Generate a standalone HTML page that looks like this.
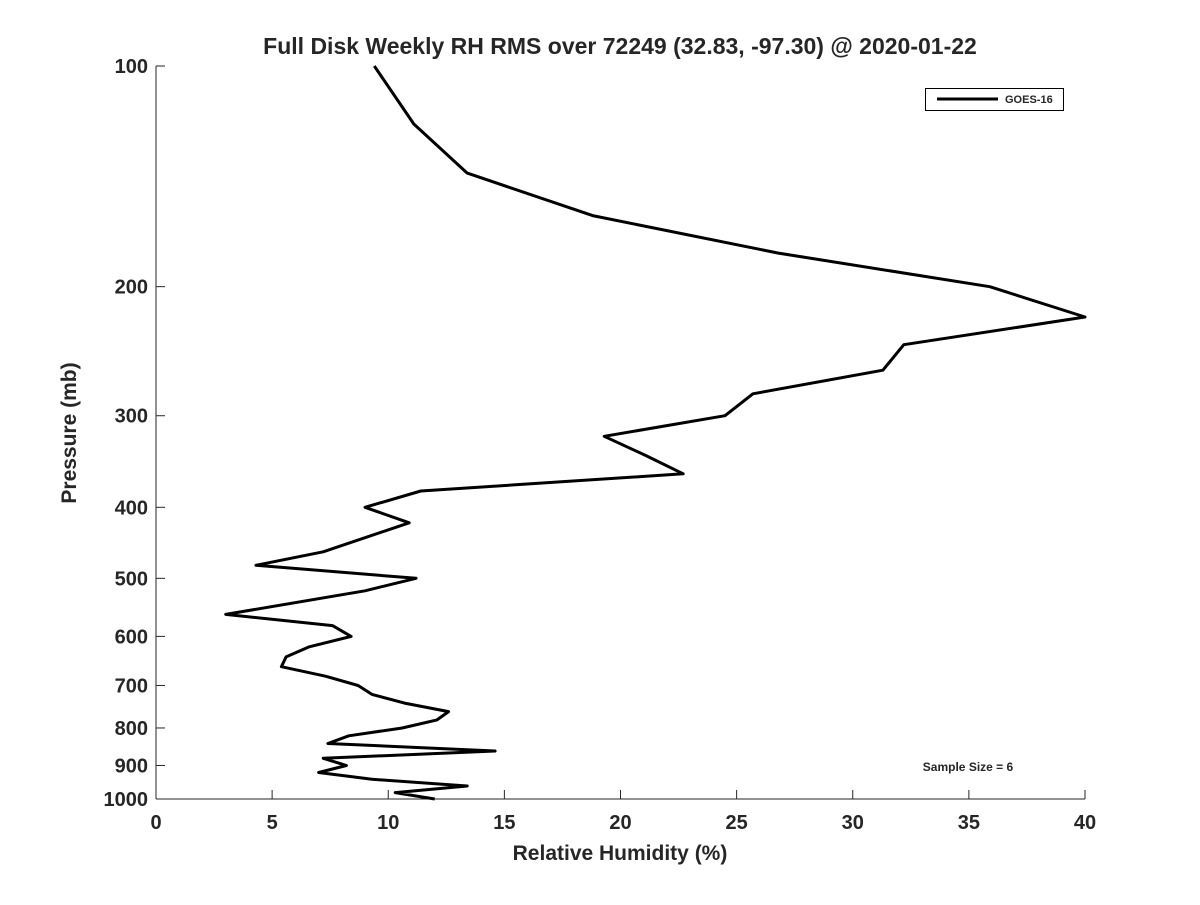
<!DOCTYPE html>
<html><head><meta charset="utf-8"><style>
html,body{margin:0;padding:0;background:#fff;}
svg text{font-family:"Liberation Sans",sans-serif;font-weight:bold;fill:#262626;}
</style></head><body>
<svg width="1200" height="900" xmlns="http://www.w3.org/2000/svg">
<rect width="1200" height="900" fill="#fff"/>
<text x="620" y="54" font-size="23" text-anchor="middle">Full Disk Weekly RH RMS over 72249 (32.83, -97.30) @ 2020-01-22</text>
<g id="axes"></g>
<path id="series" fill="none" stroke="#000" stroke-width="3" stroke-linejoin="round"/>
<g>
<rect x="925.5" y="88.5" width="138" height="22" fill="#fff" stroke="#000" stroke-width="1"/>
<line x1="937" y1="99" x2="998" y2="99" stroke="#000" stroke-width="3"/>
<text x="1005" y="103" font-size="11">GOES-16</text>
</g>
<text x="968" y="771" font-size="12" text-anchor="middle">Sample Size = 6</text>
<text x="620" y="860" font-size="21" text-anchor="middle">Relative Humidity (%)</text>
<text transform="translate(76,433) rotate(-90)" font-size="21" text-anchor="middle">Pressure (mb)</text>
</svg>
<script>
const xTicks=[0,5,10,15,20,25,30,35,40];
const yTicks=[100,200,300,400,500,600,700,800,900,1000];
const pressure=[100,120,140,160,180,200,220,240,260,280,300,320,340,360,380,400,420,460,480,500,520,560,580,600,620,640,660,680,700,720,740,760,780,800,820,840,860,880,900,920,940,960,980,1000];
const rh=[9.4,11.1,13.4,18.8,26.8,35.9,40,32.2,31.3,25.7,24.5,19.3,21.1,22.7,11.4,9.0,10.9,7.2,4.3,11.2,9.0,3.0,7.6,8.4,6.6,5.6,5.4,7.3,8.7,9.3,10.7,12.6,12.1,10.6,8.3,7.4,14.6,7.2,8.2,7.0,9.3,13.4,10.3,12.0];
const X0=156,X1=1085,Y0=66,Y1=799;
const xs=v=>X0+(v-0)/(40-0)*(X1-X0);
const ys=p=>Y0+(Math.log10(p)-2)/(3-2)*(Y1-Y0);
const NS="http://www.w3.org/2000/svg";
const ax=document.getElementById('axes');
function mk(t,a){const e=document.createElementNS(NS,t);for(const k in a)e.setAttribute(k,a[k]);ax.appendChild(e);return e;}
let e=mk('line',{x1:X0,y1:Y1,x2:X1,y2:Y1,stroke:'#262626','stroke-width':1});


e=mk('line',{x1:X0,y1:Y0,x2:X0,y2:Y1,stroke:'#262626','stroke-width':1});


xTicks.forEach(v=>{const x=xs(v);
mk('line',{x1:x,y1:Y1,x2:x,y2:Y1-9,stroke:'#262626'});
const t=mk('text',{x:x,y:Y1+30,'font-size':20,'text-anchor':'middle'});t.textContent=v;

});
yTicks.forEach(p=>{const y=ys(p);
mk('line',{x1:X0,y1:y,x2:X0+9,y2:y,stroke:'#262626'});
const t=mk('text',{x:X0-8,y:y+7,'font-size':20,'text-anchor':'end'});t.textContent=p;

});
document.getElementById('series').setAttribute('d',pressure.map((p,i)=>(i?'L':'M')+xs(rh[i]).toFixed(1)+' '+ys(p).toFixed(1)).join(' '));
</script>
</body></html>
